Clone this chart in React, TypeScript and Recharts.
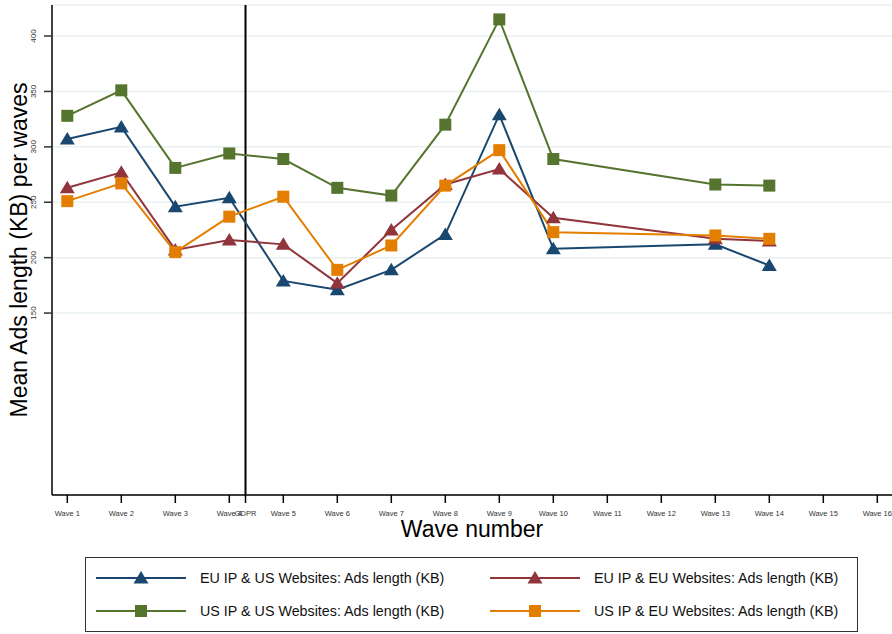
import { CartesianGrid, Line, LineChart, ReferenceLine, XAxis, YAxis } from "recharts";

const waves = [1, 2, 3, 4, 5, 6, 7, 8, 9, 10, 13, 14];
const euIpUsSites = [307, 318, 246, 254, 179, 171, 189, 221, 329, 208, 212, 193];
const euIpEuSites = [263, 277, 207, 216, 212, 177, 225, 266, 280, 236, 217, 215];
const usIpUsSites = [328, 351, 281, 294, 289, 263, 256, 320, 415, 289, 266, 265];
const usIpEuSites = [251, 267, 205, 237, 255, 189, 211, 265, 297, 223, 220, 217];

const gdprWave = 4.3;
const xTicks = [1, 2, 3, 4, gdprWave, 5, 6, 7, 8, 9, 10, 11, 12, 13, 14, 15, 16];
const yTicks = [150, 200, 250, 300, 350, 400];

const series = [
  { key: "euUs", name: "EU IP & US Websites: Ads length (KB)", color: "#1a476f", shape: "triangle", values: euIpUsSites },
  { key: "euEu", name: "EU IP & EU Websites: Ads length (KB)", color: "#90353b", shape: "triangle", values: euIpEuSites },
  { key: "usUs", name: "US IP & US Websites: Ads length (KB)", color: "#55752f", shape: "square", values: usIpUsSites },
  { key: "usEu", name: "US IP & EU Websites: Ads length (KB)", color: "#e37e00", shape: "square", values: usIpEuSites },
];

const data = waves.map((w, i) => {
  const row: any = { wave: w };
  series.forEach((s) => (row[s.key] = s.values[i]));
  return row;
});

const FONT = '"Liberation Sans", Arial, Helvetica, sans-serif';

function Marker({ cx, cy, shape, color }: { cx: number; cy: number; shape: string; color: string }) {
  if (shape === "triangle") {
    return <polygon points={`${cx},${cy - 7} ${cx - 7.5},${cy + 5.5} ${cx + 7.5},${cy + 5.5}`} fill={color} />;
  }
  return <rect x={cx - 6} y={cy - 6} width={12} height={12} fill={color} />;
}

function dotFor(shape: string, color: string) {
  return (props: any) => {
    if (props.cx == null || props.cy == null) return <g key={props.index} />;
    return (
      <g key={props.index}>
        <Marker cx={props.cx} cy={props.cy} shape={shape} color={color} />
      </g>
    );
  };
}

function XTick({ x, y, payload }: any) {
  const label = payload.value === gdprWave ? "GDPR" : `Wave ${payload.value}`;
  return (
    <text x={x} y={y + 10.5} textAnchor="middle" fontSize={7.5} fill="#333" fontFamily={FONT}>
      {label}
    </text>
  );
}

function YTick({ x, y, payload }: any) {
  return (
    <text
      transform={`translate(${x - 6},${y}) rotate(-90)`}
      textAnchor="middle"
      fontSize={8}
      fill="#333"
      fontFamily={FONT}
    >
      {payload.value}
    </text>
  );
}

function LegendItem({ s }: { s: (typeof series)[number] }) {
  return (
    <div style={{ display: "flex", alignItems: "center", height: 20 }}>
      <svg width={104} height={20} style={{ display: "block" }}>
        <line x1={0} x2={90} y1={10} y2={10} stroke={s.color} strokeWidth={2} />
        <Marker cx={45} cy={10} shape={s.shape} color={s.color} />
      </svg>
      <span style={{ fontSize: 14.3, color: "#111", whiteSpace: "nowrap" }}>{s.name}</span>
    </div>
  );
}

export default function App() {
  return (
    <div style={{ position: "absolute", left: 0, top: 0, width: 892, height: 634, background: "#fff", fontFamily: FONT }}>
      <LineChart width={892} height={634} data={data} margin={{ top: 5, right: 0, bottom: 99, left: 0 }}>
        <CartesianGrid vertical={false} stroke="#e8f0f2" strokeWidth={1.5} />
        <XAxis
          dataKey="wave"
          type="number"
          domain={[0.7167, 16.272]}
          allowDataOverflow
          ticks={xTicks}
          interval={0}
          tick={<XTick />}
          tickSize={8}
          tickMargin={2}
          height={40}
          axisLine={{ stroke: "#000", strokeWidth: 1.5 }}
          tickLine={{ stroke: "#000", strokeWidth: 1.5 }}
          label={{
            content: ({ viewBox }: any) => (
              <text
                x={viewBox.x + viewBox.width / 2}
                y={viewBox.y + 42}
                textAnchor="middle"
                fontSize={23}
                fill="#000"
                fontFamily={FONT}
              >
                Wave number
              </text>
            ),
          }}
        />
        <YAxis
          type="number"
          domain={[-14.2, 428]}
          allowDataOverflow
          ticks={yTicks}
          interval={0}
          width={52}
          tick={<YTick />}
          tickSize={8}
          tickMargin={2}
          axisLine={{ stroke: "#000", strokeWidth: 1.5 }}
          tickLine={{ stroke: "#333", strokeWidth: 1.5 }}
          label={{
            content: ({ viewBox }: any) => (
              <text
                transform={`translate(27,${viewBox.y + viewBox.height / 2}) rotate(-90)`}
                textAnchor="middle"
                fontSize={23}
                fill="#000"
                fontFamily={FONT}
              >
                Mean Ads length (KB) per waves
              </text>
            ),
          }}
        />
        <ReferenceLine x={gdprWave} stroke="#000" strokeWidth={2} />
        {series.map((s) => (
          <Line
            key={s.key}
            dataKey={s.key}
            name={s.name}
            type="linear"
            stroke={s.color}
            strokeWidth={2}
            dot={dotFor(s.shape, s.color)}
            activeDot={false}
            isAnimationActive={false}
          />
        ))}
      </LineChart>
      <div
        style={{
          position: "absolute",
          left: 85,
          top: 557,
          width: 773,
          height: 75,
          boxSizing: "border-box",
          border: "1.5px solid #333",
        }}
      >
        <div style={{ position: "absolute", left: 10, top: 10 }}>
          <LegendItem s={series[0]} />
        </div>
        <div style={{ position: "absolute", left: 404, top: 10 }}>
          <LegendItem s={series[1]} />
        </div>
        <div style={{ position: "absolute", left: 10, top: 43 }}>
          <LegendItem s={series[2]} />
        </div>
        <div style={{ position: "absolute", left: 404, top: 43 }}>
          <LegendItem s={series[3]} />
        </div>
      </div>
    </div>
  );
}
